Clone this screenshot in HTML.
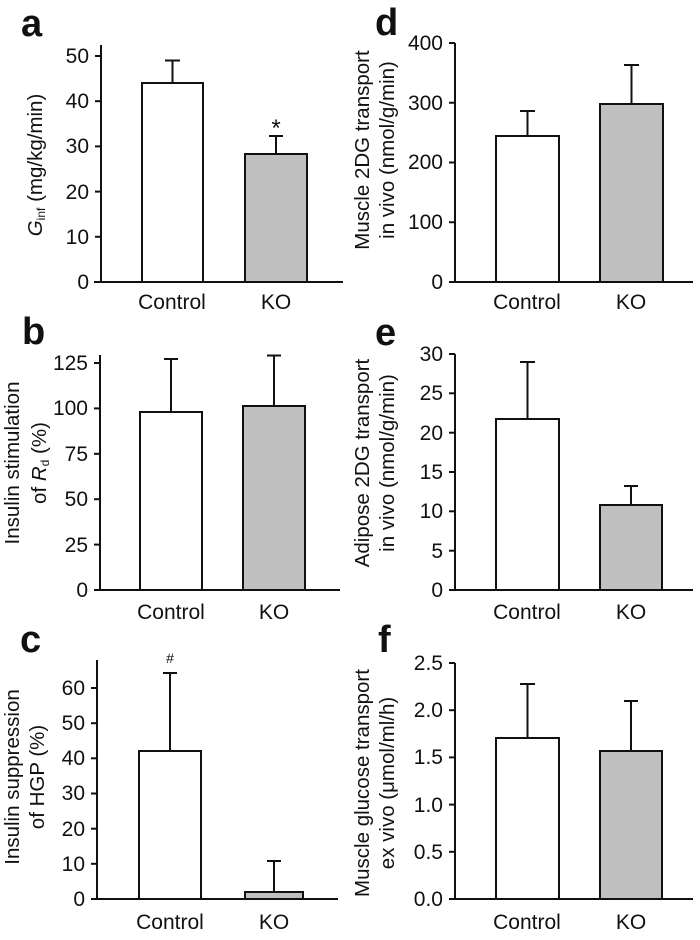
<!DOCTYPE html>
<html><head><meta charset="utf-8"><style>
html,body{margin:0;padding:0;background:#fff;}
svg{display:block;}
text{font-family:"Liberation Sans",Arial,sans-serif;fill:#111;}
.t{font-size:21px;text-anchor:end;}
.x{font-size:21px;text-anchor:middle;}
.y{font-size:20.5px;text-anchor:middle;}
.L{font-size:38px;font-weight:bold;}
line,rect,polyline{stroke:#111;stroke-width:2;}
</style></head><body>
<svg width="700" height="940" viewBox="0 0 700 940" xmlns="http://www.w3.org/2000/svg">
<!-- Panel a -->
<text class="L" x="21" y="36">a</text>
<line x1="101" y1="45" x2="101" y2="282"/>
<line x1="94" y1="282" x2="343" y2="282"/>
<line x1="95" y1="282" x2="101" y2="282"/><text class="t" x="89" y="289">0</text>
<line x1="95" y1="236.8" x2="101" y2="236.8"/><text class="t" x="89" y="244">10</text>
<line x1="95" y1="191.6" x2="101" y2="191.6"/><text class="t" x="89" y="199">20</text>
<line x1="95" y1="146.4" x2="101" y2="146.4"/><text class="t" x="89" y="153">30</text>
<line x1="95" y1="101.2" x2="101" y2="101.2"/><text class="t" x="89" y="108">40</text>
<line x1="95" y1="56" x2="101" y2="56"/><text class="t" x="89" y="63">50</text>
<line x1="172.5" y1="83" x2="172.5" y2="60.5"/><line x1="165" y1="60.5" x2="180" y2="60.5"/>
<rect x="142" y="83" width="61" height="199" fill="#fff"/>
<line x1="276" y1="154" x2="276" y2="136"/><line x1="269" y1="136" x2="283" y2="136"/>
<rect x="245" y="154" width="62" height="128" fill="#c0c0c0"/>
<text x="276" y="136" style="font-size:24px;text-anchor:middle">*</text>
<text class="x" x="172" y="309">Control</text><text class="x" x="276" y="309">KO</text>
<text class="y" transform="translate(42,165) rotate(-90)"><tspan font-style="italic">G</tspan><tspan font-size="12" dy="3">inf</tspan><tspan dy="-3"> (mg/kg/min)</tspan></text>

<!-- Panel b -->
<text class="L" x="22" y="344">b</text>
<line x1="100" y1="355" x2="100" y2="590"/>
<line x1="94" y1="590" x2="340" y2="590"/>
<line x1="94" y1="590" x2="100" y2="590"/><text class="t" x="88" y="597">0</text>
<line x1="94" y1="544.6" x2="100" y2="544.6"/><text class="t" x="88" y="552">25</text>
<line x1="94" y1="499.2" x2="100" y2="499.2"/><text class="t" x="88" y="506">50</text>
<line x1="94" y1="453.8" x2="100" y2="453.8"/><text class="t" x="88" y="461">75</text>
<line x1="94" y1="408.4" x2="100" y2="408.4"/><text class="t" x="88" y="415">100</text>
<line x1="94" y1="363" x2="100" y2="363"/><text class="t" x="88" y="370">125</text>
<line x1="171" y1="412" x2="171" y2="359"/><line x1="164" y1="359" x2="178" y2="359"/>
<rect x="140" y="412" width="62" height="178" fill="#fff"/>
<line x1="274" y1="406" x2="274" y2="355.5"/><line x1="267" y1="355.5" x2="281" y2="355.5"/>
<rect x="243" y="406" width="62" height="184" fill="#c0c0c0"/>
<text class="x" x="171" y="619">Control</text><text class="x" x="274" y="619">KO</text>
<text class="y" transform="translate(19,463) rotate(-90)">Insulin stimulation</text>
<text class="y" transform="translate(46,463) rotate(-90)">of <tspan font-style="italic">R</tspan><tspan font-size="12" dy="3">d</tspan><tspan dy="-3"> (%)</tspan></text>

<!-- Panel c -->
<text class="L" x="20" y="652">c</text>
<line x1="97" y1="660" x2="97" y2="899"/>
<line x1="91" y1="899" x2="338" y2="899"/>
<line x1="91" y1="899" x2="97" y2="899"/><text class="t" x="85" y="906">0</text>
<line x1="91" y1="863.8" x2="97" y2="863.8"/><text class="t" x="85" y="871">10</text>
<line x1="91" y1="828.7" x2="97" y2="828.7"/><text class="t" x="85" y="836">20</text>
<line x1="91" y1="793.5" x2="97" y2="793.5"/><text class="t" x="85" y="800">30</text>
<line x1="91" y1="758.3" x2="97" y2="758.3"/><text class="t" x="85" y="765">40</text>
<line x1="91" y1="723.2" x2="97" y2="723.2"/><text class="t" x="85" y="730">50</text>
<line x1="91" y1="688" x2="97" y2="688"/><text class="t" x="85" y="695">60</text>
<line x1="170" y1="751" x2="170" y2="673"/><line x1="163" y1="673" x2="177" y2="673"/>
<rect x="139" y="751" width="62" height="148" fill="#fff"/>
<line x1="274" y1="892" x2="274" y2="861"/><line x1="267" y1="861" x2="281" y2="861"/>
<rect x="245" y="892" width="58" height="7" fill="#c0c0c0"/>
<text x="170" y="663" style="font-size:14px;text-anchor:middle">#</text>
<text class="x" x="170" y="929">Control</text><text class="x" x="274" y="929">KO</text>
<text class="y" transform="translate(19,777) rotate(-90)">Insulin suppression</text>
<text class="y" transform="translate(44,777) rotate(-90)">of HGP (%)</text>

<!-- Panel d -->
<text class="L" x="375" y="35">d</text>
<line x1="455" y1="43" x2="455" y2="282"/>
<line x1="449" y1="282" x2="693" y2="282"/>
<line x1="449" y1="282" x2="455" y2="282"/><text class="t" x="443" y="289">0</text>
<line x1="449" y1="222.25" x2="455" y2="222.25"/><text class="t" x="443" y="229">100</text>
<line x1="449" y1="162.5" x2="455" y2="162.5"/><text class="t" x="443" y="169">200</text>
<line x1="449" y1="102.75" x2="455" y2="102.75"/><text class="t" x="443" y="110">300</text>
<line x1="449" y1="43" x2="455" y2="43"/><text class="t" x="443" y="50">400</text>
<line x1="527.5" y1="136" x2="527.5" y2="111"/><line x1="520" y1="111" x2="535" y2="111"/>
<rect x="496" y="136" width="63" height="146" fill="#fff"/>
<line x1="631.5" y1="104" x2="631.5" y2="65"/><line x1="624" y1="65" x2="639" y2="65"/>
<rect x="600" y="104" width="63" height="178" fill="#c0c0c0"/>
<text class="x" x="527" y="309">Control</text><text class="x" x="631" y="309">KO</text>
<text class="y" transform="translate(369,150) rotate(-90)">Muscle 2DG transport</text>
<text class="y" transform="translate(394,150) rotate(-90)">in vivo (nmol/g/min)</text>

<!-- Panel e -->
<text class="L" x="375" y="345">e</text>
<line x1="455" y1="354" x2="455" y2="590"/>
<line x1="449" y1="590" x2="693" y2="590"/>
<line x1="449" y1="590" x2="455" y2="590"/><text class="t" x="443" y="597">0</text>
<line x1="449" y1="550.7" x2="455" y2="550.7"/><text class="t" x="443" y="558">5</text>
<line x1="449" y1="511.3" x2="455" y2="511.3"/><text class="t" x="443" y="518">10</text>
<line x1="449" y1="472" x2="455" y2="472"/><text class="t" x="443" y="479">15</text>
<line x1="449" y1="432.7" x2="455" y2="432.7"/><text class="t" x="443" y="440">20</text>
<line x1="449" y1="393.3" x2="455" y2="393.3"/><text class="t" x="443" y="400">25</text>
<line x1="449" y1="354" x2="455" y2="354"/><text class="t" x="443" y="361">30</text>
<line x1="527.5" y1="419" x2="527.5" y2="362"/><line x1="520" y1="362" x2="535" y2="362"/>
<rect x="496" y="419" width="63" height="171" fill="#fff"/>
<line x1="631" y1="505" x2="631" y2="486"/><line x1="624" y1="486" x2="638" y2="486"/>
<rect x="600" y="505" width="62" height="85" fill="#c0c0c0"/>
<text class="x" x="527" y="619">Control</text><text class="x" x="631" y="619">KO</text>
<text class="y" transform="translate(369,463) rotate(-90)">Adipose 2DG transport</text>
<text class="y" transform="translate(394,463) rotate(-90)">in vivo (nmol/g/min)</text>

<!-- Panel f -->
<text class="L" x="378" y="652">f</text>
<line x1="455" y1="663" x2="455" y2="899"/>
<line x1="449" y1="899" x2="693" y2="899"/>
<line x1="449" y1="899" x2="455" y2="899"/><text class="t" x="443" y="906">0.0</text>
<line x1="449" y1="851.8" x2="455" y2="851.8"/><text class="t" x="443" y="859">0.5</text>
<line x1="449" y1="804.6" x2="455" y2="804.6"/><text class="t" x="443" y="812">1.0</text>
<line x1="449" y1="757.4" x2="455" y2="757.4"/><text class="t" x="443" y="764">1.5</text>
<line x1="449" y1="710.2" x2="455" y2="710.2"/><text class="t" x="443" y="717">2.0</text>
<line x1="449" y1="663" x2="455" y2="663"/><text class="t" x="443" y="670">2.5</text>
<line x1="527.5" y1="738" x2="527.5" y2="684"/><line x1="520" y1="684" x2="535" y2="684"/>
<rect x="496" y="738" width="63" height="161" fill="#fff"/>
<line x1="631" y1="751" x2="631" y2="701"/><line x1="624" y1="701" x2="638" y2="701"/>
<rect x="600" y="751" width="62" height="148" fill="#c0c0c0"/>
<text class="x" x="527" y="929">Control</text><text class="x" x="631" y="929">KO</text>
<text class="y" transform="translate(369,783) rotate(-90)">Muscle glucose transport</text>
<text class="y" transform="translate(394,783) rotate(-90)">ex vivo (μmol/ml/h)</text>
</svg>
</body></html>
